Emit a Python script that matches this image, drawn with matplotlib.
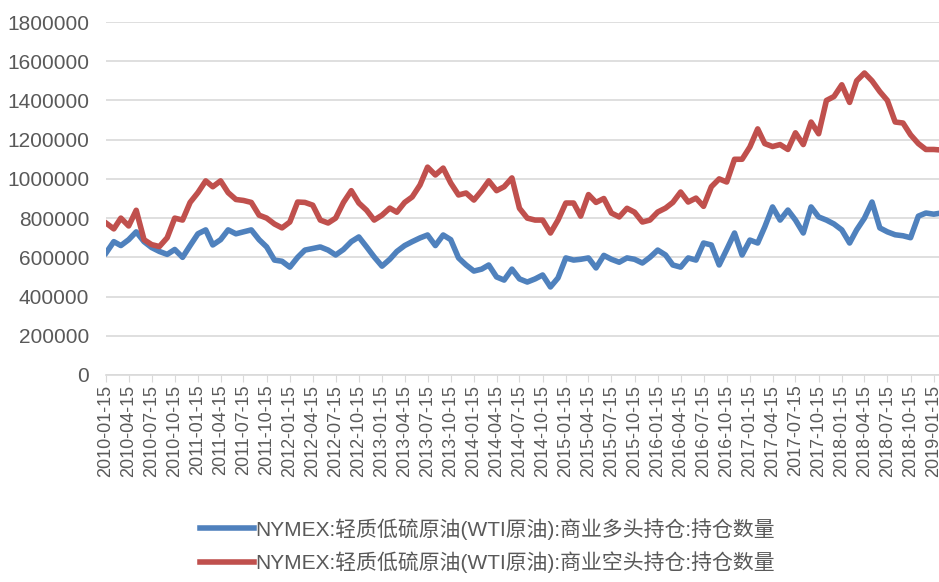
import numpy as np
import pandas as pd
import matplotlib
matplotlib.use("Agg")
import matplotlib.pyplot as plt

plt.rcParams['font.family'] = ['Liberation Sans', 'Noto Sans CJK SC', 'DejaVu Sans']

# monthly readings (mid-month), 2010-01 .. 2019-02, in contracts
months = pd.date_range('2010-01-01', periods=110, freq='MS') + pd.Timedelta(days=14)

long_k = [
    622, 680, 660, 690, 730, 680, 650, 630, 615, 640, 600, 660,   # 2010
    720, 740, 663, 690, 740, 720, 730, 740, 690, 653, 586, 580,   # 2011
    550, 600, 637, 645, 653, 637, 612, 640, 680, 704, 653, 602,   # 2012
    555, 590, 630, 660, 680, 699, 714, 660, 714, 690, 597, 561,   # 2013
    530, 540, 561, 500, 484, 540, 490, 474, 490, 510, 449, 495,   # 2014
    597, 586, 590, 597, 546, 610, 590, 575, 597, 590, 571, 600,   # 2015
    637, 612, 561, 550, 597, 586, 673, 663, 561, 640, 724, 612,   # 2016
    688, 673, 755, 857, 790, 841, 790, 724, 857, 806, 790, 770,   # 2017
    740, 673, 740, 800, 882, 750, 730, 715, 710, 700, 810, 826,   # 2018
    820, 826,                                                     # 2019
]
short_k = [
    775, 745, 800, 760, 840, 690, 665, 655, 700, 800, 790, 880,
    930, 990, 960, 990, 930, 895, 890, 880, 815, 800, 770, 750,
    780, 882, 880, 866, 790, 775, 800, 880, 940, 877, 840, 790,
    815, 851, 830, 880, 908, 969, 1060, 1020, 1055, 979, 918, 928,
    892, 940, 990, 940, 960, 1005, 850, 800, 790, 790, 724, 790,
    877, 877, 810, 920, 880, 900, 826, 806, 850, 830, 780, 790,
    831, 851, 880, 933, 882, 902, 860, 960, 1000, 984, 1100, 1100,
    1163, 1255, 1180, 1165, 1175, 1150, 1235, 1175, 1290, 1230, 1400, 1420,
    1480, 1390, 1500, 1540, 1500, 1445, 1400, 1290, 1285, 1225, 1180, 1150,
    1150, 1147,
]
long_pos = np.array(long_k) * 1000
short_pos = np.array(short_k) * 1000

label_long = 'NYMEX:轻质低硫原油(WTI原油):商业多头持仓:持仓数量'
label_short = 'NYMEX:轻质低硫原油(WTI原油):商业空头持仓:持仓数量'

tick_dates = pd.date_range('2010-01-01', '2019-01-01', freq='QS') + pd.Timedelta(days=14)
y_ticks = np.arange(0, 1800001, 200000)

text_col = '#595959'
fig = plt.figure(figsize=(9.39, 5.82), dpi=100)
ax = fig.add_axes([106 / 939, 1 - 375 / 582, 1 - 106 / 939, 353 / 582])

ax.plot(months, long_pos, color='#4F81BD', lw=4, label=label_long, solid_joinstyle='round')
ax.plot(months, short_pos, color='#C0504D', lw=4, label=label_short, solid_joinstyle='round')

ax.set_ylim(0, 1800000)
ax.set_yticks(y_ticks)
ax.set_yticklabels([str(v) for v in y_ticks])
ax.set_xlim(pd.Timestamp('2010-01-15'), pd.Timestamp('2019-02-05'))
ax.set_xticks(tick_dates)
ax.set_xticklabels([d.strftime('%Y-%m-%d') for d in tick_dates], rotation=90)

ax.grid(axis='y', color='#D9D9D9', lw=1.2)
ax.set_axisbelow(True)
for s in ['top', 'right', 'left']:
    ax.spines[s].set_visible(False)
ax.spines['bottom'].set_color('#D9D9D9')
ax.spines['bottom'].set_linewidth(1.2)
ax.tick_params(axis='y', length=0, pad=12, labelsize=15, labelcolor=text_col)
ax.tick_params(axis='x', length=5, color='#D9D9D9', pad=2, labelsize=13, labelcolor=text_col)

fig.legend(loc='upper left', bbox_to_anchor=(200 / 939, 1 - 518 / 582), frameon=False,
           fontsize=15, handlelength=2.6, handletextpad=0.05, labelspacing=0.55,
           borderaxespad=0, borderpad=0, labelcolor=text_col)

fig.savefig('out.png', dpi=100)
